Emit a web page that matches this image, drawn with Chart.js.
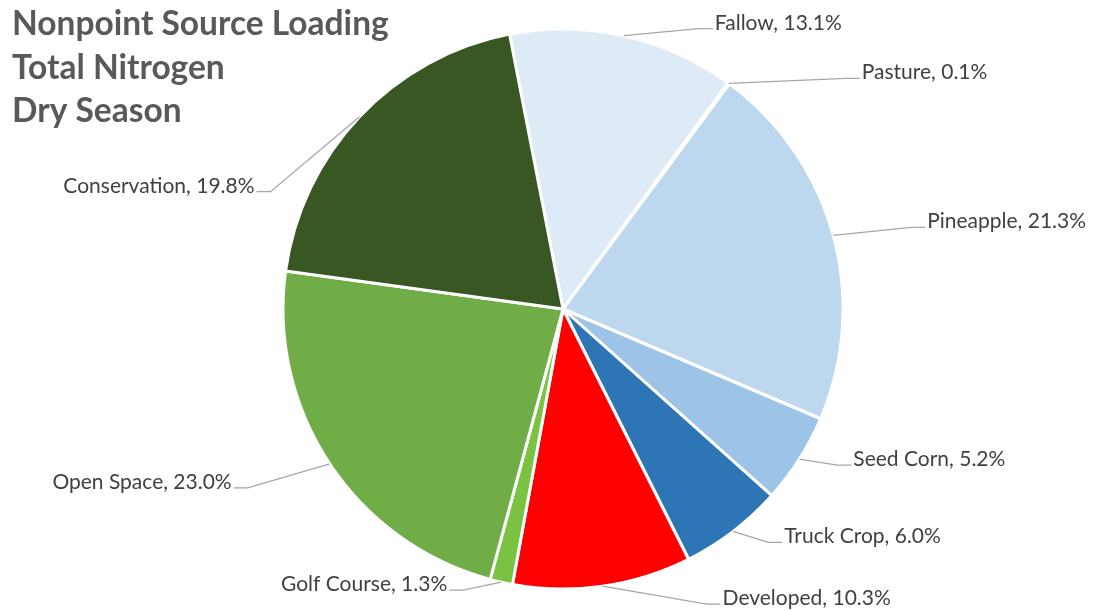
<!DOCTYPE html>
<html>
<head>
<meta charset="utf-8">
<script src="https://cdn.jsdelivr.net/npm/chart.js@4.4.0/dist/chart.umd.min.js"></script>
<style>
  html, body { margin: 0; padding: 0; background: #ffffff; }
  #wrap { width: 1099px; height: 611px; position: relative; }
</style>
</head>
<body>
<div id="wrap"><canvas id="c" width="1099" height="611"></canvas></div>
<script>
const titleLines = ['Nonpoint Source Loading', 'Total Nitrogen', 'Dry Season'];
const categories = ['Fallow', 'Pasture', 'Pineapple', 'Seed Corn', 'Truck Crop', 'Developed', 'Golf Course', 'Open Space', 'Conservation'];
const values = [13.1, 0.1, 21.3, 5.2, 6.0, 10.3, 1.3, 23.0, 19.8];
const sliceColors = ['#deebf7', '#cfe0f2', '#bdd7ee', '#9dc3e6', '#2e75b6', '#ff0000', '#7cc242', '#70ad47', '#385723'];
// leader-line end offsets (label layout) relative to the slice's outer edge midpoint
const labelOffsets = [[89, -7], [131, -5], [92, -8], [52, 6], [49, 11], [118, 18], [-52, 8], [-96, 24], [-103, 75]];

const labelFont = '21px Lato';
const titleFont = 'bold 33.5px Lato';

const overlayPlugin = {
  id: 'overlay',
  afterDraw(chart) {
    const ctx = chart.ctx;
    const meta = chart.getDatasetMeta(0);
    ctx.save();
    // title
    ctx.fillStyle = '#595959';
    ctx.font = titleFont;
    ctx.textAlign = 'left';
    ctx.textBaseline = 'alphabetic';
    const baselines = [35, 79, 122];
    titleLines.forEach((t, i) => ctx.fillText(t, 12, baselines[i]));

    // data labels with leader lines
    ctx.font = labelFont;
    meta.data.forEach((arc, i) => {
      const p = arc.getProps(['x', 'y', 'startAngle', 'endAngle', 'outerRadius'], true);
      const a = (p.startAngle + p.endAngle) / 2;
      const ex = p.x + p.outerRadius * Math.cos(a);
      const ey = p.y + p.outerRadius * Math.sin(a);
      const [dx, dy] = labelOffsets[i];
      const px = ex + dx;
      const py = ey + dy;
      const dir = dx >= 0 ? 1 : -1;
      ctx.strokeStyle = '#a6a6a6';
      ctx.lineWidth = 1.3;
      ctx.beginPath();
      ctx.moveTo(ex, ey);
      ctx.lineTo(px - dir * 14, py);
      ctx.lineTo(px, py);
      ctx.stroke();
      ctx.fillStyle = '#404040';
      ctx.textAlign = dir > 0 ? 'left' : 'right';
      ctx.textBaseline = 'alphabetic';
      const txt = categories[i] + ', ' + values[i].toFixed(1) + '%';
      ctx.fillText(txt, px + dir * 2, py + 1);
    });
    ctx.restore();
  }
};

new Chart(document.getElementById('c'), {
  type: 'pie',
  data: {
    labels: categories,
    datasets: [{
      data: values,
      backgroundColor: sliceColors,
      borderColor: '#ffffff',
      borderWidth: 3
    }]
  },
  options: {
    responsive: false,
    animation: false,
    rotation: -11,
    radius: 280,
    layout: { padding: { left: 283, right: 256, top: 29, bottom: 22 } },
    plugins: {
      legend: { display: false },
      title: { display: false },
      tooltip: { enabled: false }
    }
  },
  plugins: [overlayPlugin]
});
</script>
</body>
</html>
